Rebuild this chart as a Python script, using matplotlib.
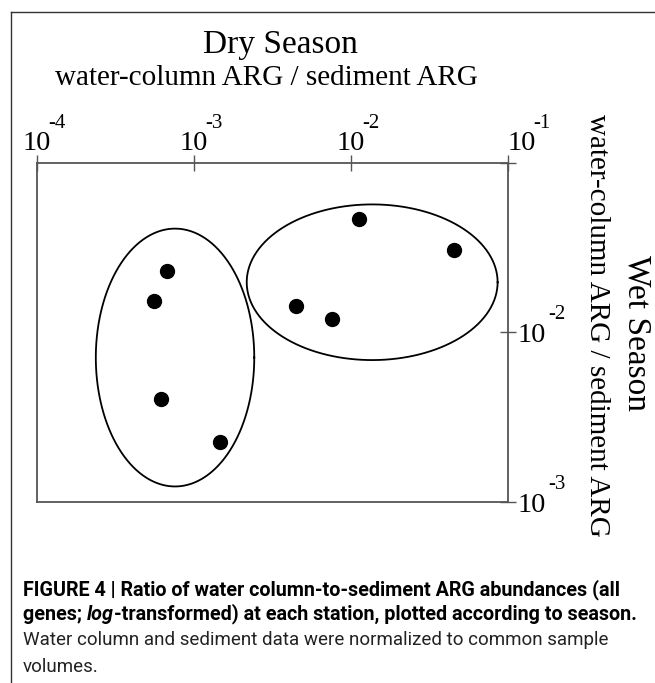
import numpy as np
import matplotlib
matplotlib.use("Agg")
import matplotlib.pyplot as plt
from matplotlib.lines import Line2D
from matplotlib.ticker import NullLocator

# ---- data ----
dry_ratio = [6.71e-4, 5.57e-4, 6.15e-4, 1.466e-3, 4.46e-3, 1.122e-2, 4.54e-2, 7.58e-3]
wet_ratio = [2.30e-2, 1.528e-2, 4.02e-3, 2.24e-3, 1.426e-2, 4.71e-2, 3.08e-2, 1.20e-2]

# group ellipses in log10 units: centre x, centre y, semi-axis x, semi-axis y
ell_cx = [-3.120, -1.866]
ell_cy = [-2.148, -1.703]
ell_rx = [0.504, 0.798]
ell_ry = [0.762, 0.460]

x_ticks = [1e-4, 1e-3, 1e-2, 1e-1]
x_tick_exp = ["-4", "-3", "-2", "-1"]
y_ticks = [1e-3, 1e-2, 1e-1]
y_tick_exp = ["-3", "-2", ""]

title_x = "Dry Season"
title_y = "Wet Season"
sub_label = "water-column ARG / sediment ARG"
cap1 = "FIGURE 4 | Ratio of water column-to-sediment ARG abundances (all"
cap2a = "genes; "
cap2b = "log"
cap2c = "-transformed) at each station, plotted according to season."
cap3 = "Water column and sediment data were normalized to common sample"
cap4 = "volumes."

# ---- figure ----
W, H = 655, 683
fig = plt.figure(figsize=(W / 100, H / 100), dpi=100)
serif = "Liberation Serif"
sans = "Roboto"
sc = "#555555"

L, R, T, B = 36.7, 508.3, 163.3, 501.7
ax = fig.add_axes([L / W, 1 - B / H, (R - L) / W, (B - T) / H])
ax.set_xscale("log")
ax.set_yscale("log")
ax.set_xlim(1e-4, 1e-1)
ax.set_ylim(1e-3, 1e-1)
ax.set_xticks(x_ticks)
ax.set_yticks(y_ticks)
ax.xaxis.set_minor_locator(NullLocator())
ax.yaxis.set_minor_locator(NullLocator())
ax.tick_params(which="both", top=True, bottom=False, left=False, right=True,
               labeltop=False, labelbottom=False, labelleft=False, labelright=False,
               direction="inout", length=11, width=1.0, color=sc)
for s in ax.spines.values():
    s.set_color(sc)
    s.set_linewidth(1.3)

# ellipses
t = np.linspace(0, 2 * np.pi, 400)
for cx, cy, rx, ry in zip(ell_cx, ell_cy, ell_rx, ell_ry):
    ax.plot(10 ** (cx + rx * np.cos(t)), 10 ** (cy + ry * np.sin(t)),
            color="black", lw=1.3)

# points
ax.plot(dry_ratio, wet_ratio, "o", color="black", ms=10, mec="black")

# top tick labels
x_shift = [0, 0, 0, 9.5]
for v, e, dx in zip(x_ticks, x_tick_exp, x_shift):
    ax.annotate("10", xy=(v, 1), xycoords=("data", "axes fraction"),
                xytext=(dx, 9.6), textcoords="offset points",
                ha="center", va="baseline", fontsize=20.5, family=serif)
    ax.annotate(e, xy=(v, 1), xycoords=("data", "axes fraction"),
                xytext=(dx + 8.3, 25.4), textcoords="offset points",
                ha="left", va="baseline", fontsize=15, family=serif)

# right tick labels
for v, e in zip(y_ticks, y_tick_exp):
    if not e:
        continue
    ax.annotate("10", xy=(1, v), xycoords=("axes fraction", "data"),
                xytext=(6.8, -7.2), textcoords="offset points",
                ha="left", va="baseline", fontsize=20.5, family=serif)
    ax.annotate(e, xy=(1, v), xycoords=("axes fraction", "data"),
                xytext=(28.6, 9.4), textcoords="offset points",
                ha="left", va="baseline", fontsize=15, family=serif)

# titles
fig.text(280 / W, 1 - 53.5 / H, title_x, ha="center", va="baseline",
         fontsize=24, family=serif)
fig.text(266 / W, 1 - 85 / H, sub_label, ha="center", va="baseline",
         fontsize=21, family=serif)
fig.text(628 / W, 1 - 333 / H, title_y, ha="center", va="baseline",
         rotation=-90, rotation_mode="anchor", fontsize=24, family=serif)
fig.text(590 / W, 1 - 325 / H, sub_label, ha="center", va="baseline",
         rotation=-90, rotation_mode="anchor", fontsize=21, family=serif)

# caption
cx0 = 23 / W
fsb, fsr = 14.2, 13.5
fig.text(cx0, 1 - 595 / H, cap1, ha="left", va="baseline", fontsize=fsb,
         family=sans, weight="bold", color="black")
t1 = fig.text(cx0, 1 - 620 / H, cap2a, ha="left", va="baseline", fontsize=fsb,
              family=sans, weight="bold", color="black")
t2 = ax.annotate(cap2b, xy=(1, 0), xycoords=t1, ha="left", va="bottom",
                 fontsize=fsb, family=sans, weight="bold", style="italic")
ax.annotate(cap2c, xy=(1, 0), xycoords=t2, ha="left", va="bottom",
            fontsize=fsb, family=sans, weight="bold")
fig.text(cx0, 1 - 645 / H, cap3, ha="left", va="baseline", fontsize=fsr,
         family=sans, color="#222222")
fig.text(cx0, 1 - 672 / H, cap4, ha="left", va="baseline", fontsize=fsr,
         family=sans, color="#222222")

# outer border (left and top)
bx, by = 10.7 / W, 1 - 11.7 / H
fig.add_artist(Line2D([bx, bx], [0, by], transform=fig.transFigure,
                      color="#333333", lw=1.0))
fig.add_artist(Line2D([bx, 1], [by, by], transform=fig.transFigure,
                      color="#333333", lw=1.0))

fig.savefig("out.png", dpi=100, facecolor="white")
